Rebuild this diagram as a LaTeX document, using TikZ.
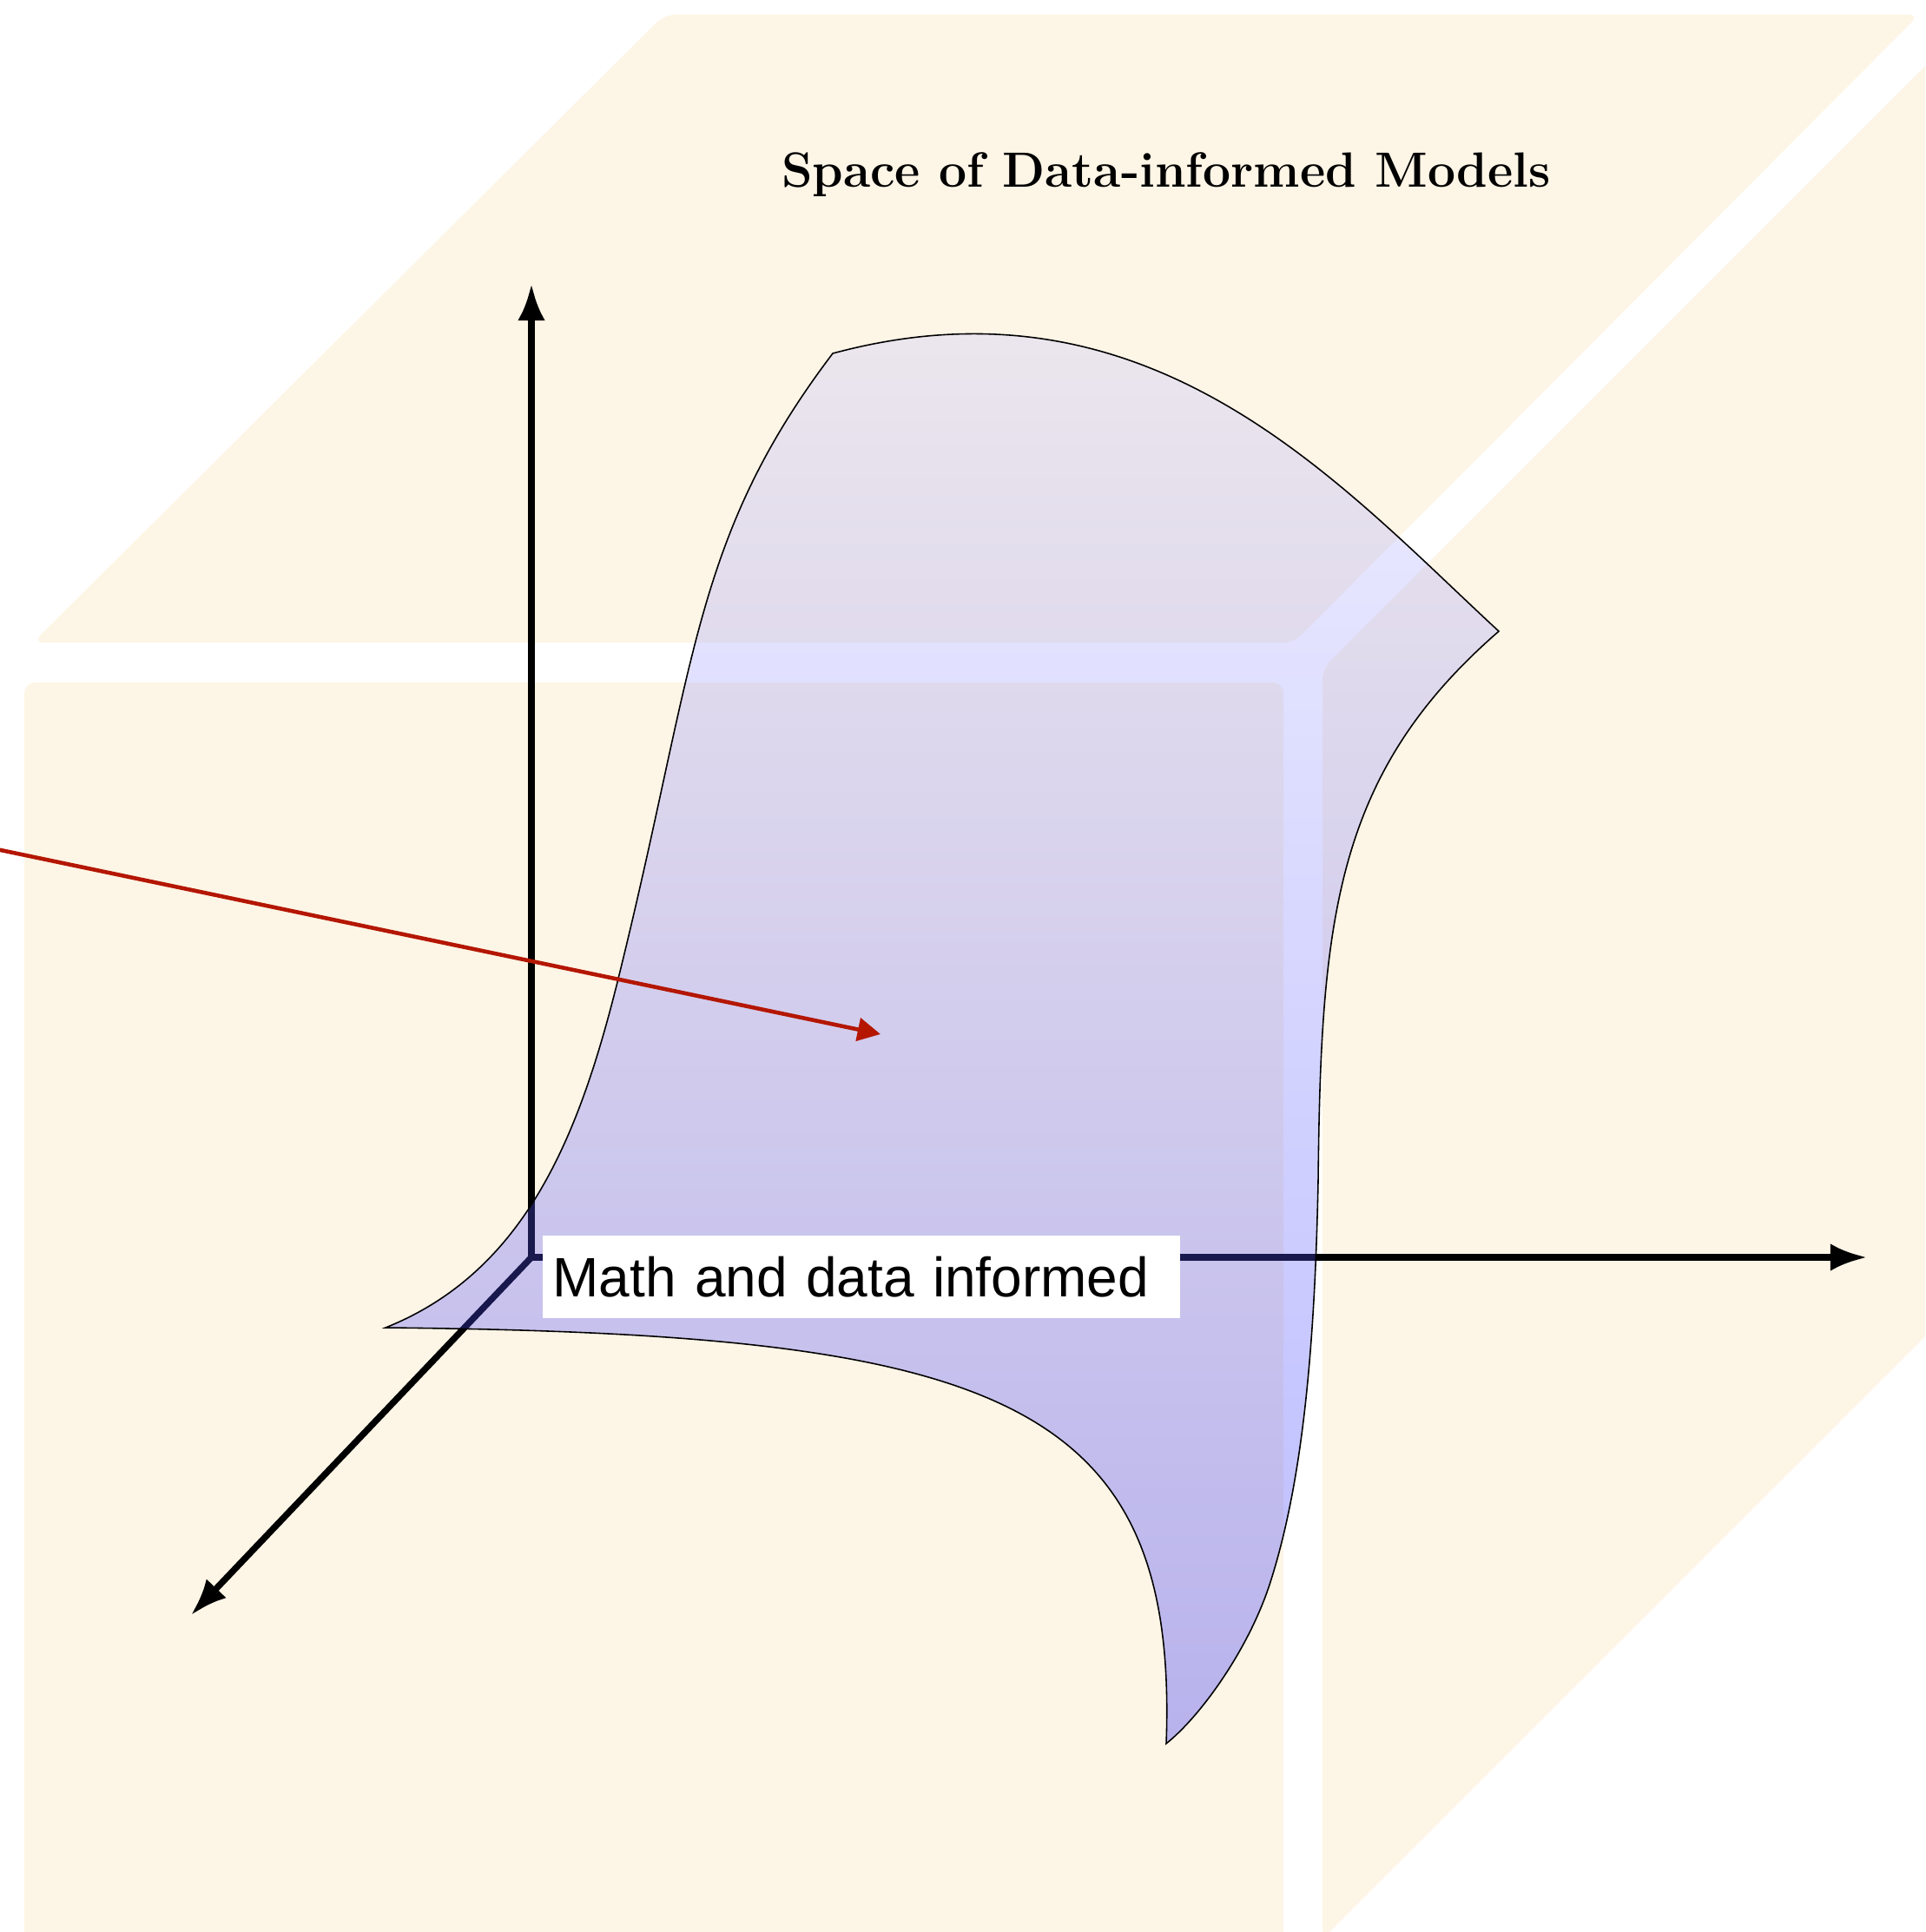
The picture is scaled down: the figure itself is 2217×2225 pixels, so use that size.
\documentclass[tikz,border=0pt]{standalone}
\usepackage{fontspec}
\newfontfamily\labelfont{Liberation Sans}
\usetikzlibrary{arrows.meta}
\definecolor{facecream}{RGB}{253,245,230}
\definecolor{arrowred}{RGB}{180,22,0}
\tikzset{
  face/.style={fill=facecream, draw=none, rounded corners=3.5pt},
  axis/.style={draw=black, line width=2.1pt, -{Latex[length=12pt,width=9pt]}},
  surf/.style={draw=black, line width=0.45pt, top color=blue!20, bottom color=blue!90, fill opacity=0.3, draw opacity=1},
  labelbox/.style={fill=white, inner xsep=3.4pt, inner ysep=0pt, text height=19.9pt, text depth=7.1pt, text width=202pt, align=left, font=\labelfont\fontsize{18.2}{22}\selectfont},
  redarrow/.style={draw=arrowred, line width=1.3pt, -{Triangle[length=7.5pt,width=7.5pt]}},
  titlestyle/.style={font=\fontsize{16.2}{19}\selectfont\bfseries}
}
\begin{document}
\begin{tikzpicture}[x=0.01cm,y=-0.01cm]
\useasboundingbox (0,0) rectangle (2217,2225);
\clip (0,0) rectangle (2217,2225);
% cube faces
\path[face] (28,786) rectangle (1478,2236);
\path[face] (38,740) -- (1490,740) -- (2210,17) -- (765,17) -- cycle;
\path[face] (1523,770) -- (2246,47) -- (2246,1510) -- (1523,2233) -- cycle;
% axes
\coordinate (O) at (612,1448);
\coordinate (zt) at (612,327);
\coordinate (xt) at (2150,1448);
\coordinate (yt) at (220,1860);
\draw[axis] (O) -- (zt);
\draw[axis] (O) -- (xt);
\draw[axis] (O) -- (yt);
% surface
\draw[surf] (444,1529) .. controls (604,1465) and (666,1310) .. (710,1135)
  .. controls (802,766) and (796,622) .. (959,407)
  .. controls (1326,308) and (1542,557) .. (1726,727)
  .. controls (1537,891) and (1521,1060) .. (1518,1360)
  .. controls (1514,1560) and (1499,1711) .. (1462,1825)
  .. controls (1437,1901) and (1382,1977) .. (1343,2008)
  .. controls (1358,1608) and (1144,1536) .. (444,1529) -- cycle;
% label
\node[labelbox, anchor=south west] (lab) at (624,1519) {Math and data informed};
% red arrow
\coordinate (rs) at (-200,937);
\coordinate (re) at (1014,1191);
\draw[redarrow] (rs) -- (re);
% title
\node[titlestyle, anchor=base] (title) at (1343,216) {Space of Data-informed Models};
\end{tikzpicture}
\end{document}
